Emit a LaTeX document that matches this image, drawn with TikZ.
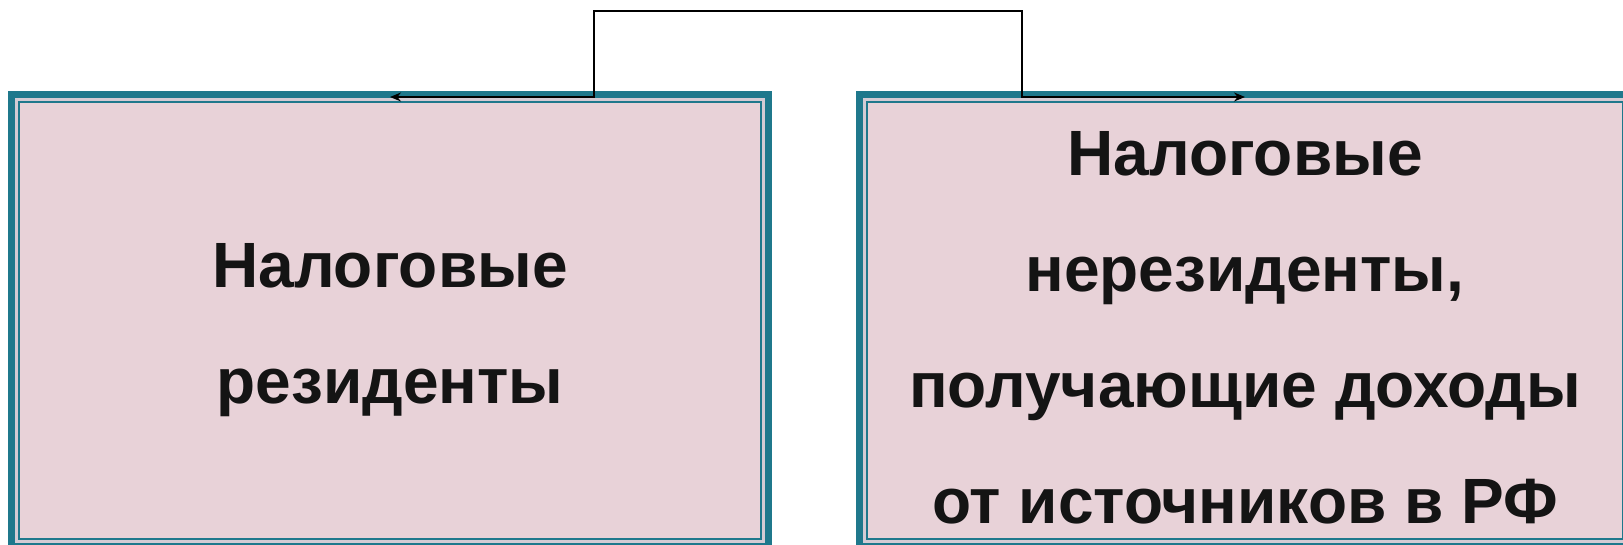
\documentclass[tikz,border=0pt]{standalone}
\usepackage{fontspec}
\setmainfont{Liberation Sans}
\usetikzlibrary{arrows.meta}
\definecolor{frame}{RGB}{31,120,140}
\definecolor{gap}{RGB}{212,203,212}
\definecolor{paper}{RGB}{232,210,216}
\tikzset{
  box/.style={draw=frame, line width=7pt, fill=paper, outer sep=0pt, inner sep=0pt},
  lbl/.style={align=center, font=\fontsize{64}{116}\selectfont\bfseries, text=black!92},
  conn/.style={draw=black, line width=1.4pt, {Stealth[length=11pt,width=9pt]}-{Stealth[length=11pt,width=9pt]}}
}
\newcommand{\innerframe}[1]{%
  \draw[gap, line width=3pt] ([shift={(5,5)}]#1.north west) rectangle ([shift={(-5,-5)}]#1.south east);
  \draw[frame, line width=2pt] ([shift={(7.5,7.5)}]#1.north west) rectangle ([shift={(-7.5,-7.5)}]#1.south east);
}
\begin{document}
\begin{tikzpicture}[x=1pt, y=-1pt]
  \useasboundingbox (0,0) rectangle (1623,545);
  \clip (0,0) rectangle (1623,545);
  \fill[white] (0,0) rectangle (1623,545);
  % two framed boxes
  \node[box, minimum width=757pt, minimum height=452pt] (L) at (390,320.5) {};
  \innerframe{L}
  \node[box, minimum width=771pt, minimum height=452pt] (R) at (1245,320.5) {};
  \innerframe{R}
  % captions
  \node[lbl] (Lt) at (390,330) {Налоговые\\резиденты};
  \node[lbl] (Rt) at (1245,328) {Налоговые\\нерезиденты,\\получающие доходы\\от источников в РФ};
  % bracket connector above the boxes
  \coordinate (jl) at (594,11);
  \coordinate (jr) at (1022,11);
  \draw[conn] ([yshift=-2.5pt]L.north) -| (jl) -- (jr) |- ([yshift=-2.5pt]R.north);
\end{tikzpicture}
\end{document}
